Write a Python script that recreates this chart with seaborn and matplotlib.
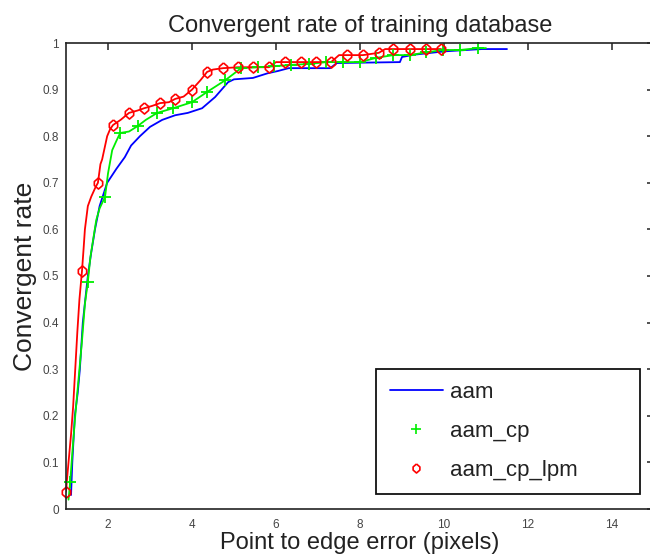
import matplotlib
matplotlib.use("Agg")
import matplotlib.pyplot as plt
from matplotlib.lines import Line2D
import seaborn as sns

# ---- data ----
aam_x = [1.12, 1.15, 1.21, 1.28, 1.33, 1.40, 1.46, 1.52, 1.60, 1.69, 1.80, 1.98, 2.20, 2.40,
         2.55, 2.76, 3.00, 3.29, 3.60, 3.90, 4.24, 4.55, 4.86, 5.00, 5.45, 5.80, 6.05, 6.30,
         6.64, 7.29, 7.45, 8.95, 9.00, 9.30, 9.60, 10.00, 10.90, 11.50]
aam_y = [0.03, 0.10, 0.20, 0.25, 0.30, 0.40, 0.45, 0.50, 0.55, 0.60, 0.65, 0.70, 0.73, 0.755,
         0.78, 0.80, 0.82, 0.835, 0.845, 0.85, 0.86, 0.884, 0.916, 0.922, 0.925, 0.935, 0.94, 0.946,
         0.946, 0.946, 0.957, 0.959, 0.97, 0.975, 0.978, 0.982, 0.987, 0.987]

cp_x = [1.06, 1.10, 1.15, 1.22, 1.30, 1.38, 1.45, 1.52, 1.58, 1.65, 1.72, 1.80, 1.93, 2.00,
        2.10, 2.20, 2.29, 2.50, 2.71, 2.90, 3.17, 3.55, 4.00, 4.36, 4.79, 5.17, 5.57, 5.95,
        6.35, 6.78, 7.20, 7.60, 8.00, 8.38, 8.79, 9.19, 9.58, 9.98, 10.38, 10.80, 11.00]
cp_y = [0.02, 0.058, 0.12, 0.20, 0.28, 0.36, 0.44, 0.487, 0.54, 0.58, 0.62, 0.645, 0.67, 0.72,
        0.77, 0.79, 0.807, 0.81, 0.822, 0.835, 0.85, 0.86, 0.873, 0.895, 0.92, 0.946, 0.948, 0.95,
        0.953, 0.955, 0.959, 0.959, 0.959, 0.968, 0.974, 0.974, 0.98, 0.985, 0.985, 0.989, 0.989]
cp_mx = [1.10, 1.52, 1.93, 2.29, 2.71, 3.17, 3.55, 4.00, 4.36, 4.79, 5.17, 5.57, 5.95,
         6.35, 6.78, 7.20, 7.60, 8.00, 8.38, 8.79, 9.19, 9.58, 9.98, 10.38, 10.80]
cp_my = [0.058, 0.487, 0.67, 0.807, 0.822, 0.85, 0.86, 0.873, 0.895, 0.92, 0.946, 0.948, 0.95,
         0.953, 0.955, 0.959, 0.959, 0.959, 0.968, 0.974, 0.974, 0.98, 0.985, 0.985, 0.989]

lpm_x = [1.00, 1.03, 1.07, 1.12, 1.17, 1.22, 1.27, 1.32, 1.38, 1.42, 1.45, 1.52, 1.60, 1.70,
         1.76, 1.82, 1.86, 1.98, 2.05, 2.12, 2.30, 2.50, 2.70, 2.86, 3.05, 3.24, 3.45, 3.60,
         3.80, 4.00, 4.20, 4.36, 4.50, 4.74, 5.10, 5.45, 5.83, 6.00, 6.21, 6.60, 6.95, 7.31,
         7.50, 7.69, 8.07, 8.45, 8.60, 8.79, 9.19, 9.57, 9.93]
lpm_y = [0.037, 0.07, 0.11, 0.16, 0.22, 0.30, 0.38, 0.45, 0.51, 0.56, 0.60, 0.65, 0.67, 0.69,
         0.70, 0.74, 0.75, 0.80, 0.815, 0.824, 0.835, 0.85, 0.855, 0.86, 0.865, 0.871, 0.873, 0.88,
         0.885, 0.90, 0.92, 0.938, 0.943, 0.946, 0.948, 0.948, 0.948, 0.959, 0.959, 0.959, 0.959, 0.959,
         0.974, 0.974, 0.974, 0.979, 0.987, 0.987, 0.987, 0.987, 0.987]
lpm_mx = [1.00, 1.38, 1.76, 2.12, 2.50, 2.86, 3.24, 3.60, 4.00, 4.36, 4.74, 5.10, 5.45,
          5.83, 6.21, 6.60, 6.95, 7.31, 7.69, 8.07, 8.45, 8.79, 9.19, 9.57, 9.93]
lpm_my = [0.037, 0.51, 0.70, 0.824, 0.85, 0.86, 0.871, 0.88, 0.90, 0.938, 0.946, 0.948, 0.948,
          0.948, 0.959, 0.959, 0.959, 0.959, 0.974, 0.974, 0.979, 0.987, 0.987, 0.987, 0.987]

series_labels = ["aam", "aam_cp", "aam_cp_lpm"]
xticks = [2, 4, 6, 8, 10, 12, 14]
yticks = [0, 0.1, 0.2, 0.3, 0.4, 0.5, 0.6, 0.7, 0.8, 0.9, 1]
ytick_labels = ["0", "0.1", "0.2", "0.3", "0.4", "0.5", "0.6", "0.7", "0.8", "0.9", "1"]

BLUE, GREEN, RED = "#0000FF", "#00EE00", "#FF0000"
# rounded diamond marker, like the reference
DIAM = [(0, 1), (0.75, 0.35), (0.75, -0.35), (0, -1), (-0.75, -0.35), (-0.75, 0.35), (0, 1)]

sns.set_style("white")
plt.rcParams["font.family"] = ["Liberation Sans", "DejaVu Sans"]

fig = plt.figure(figsize=(6.5, 5.56), dpi=100)
ax = fig.add_axes([66 / 650, 47 / 556, 588 / 650, 466 / 556])

# lines
sns.lineplot(x=aam_x, y=aam_y, ax=ax, color=BLUE, lw=1.3, estimator=None, sort=False, legend=False)
sns.lineplot(x=cp_x, y=cp_y, ax=ax, color=GREEN, lw=1.3, estimator=None, sort=False, legend=False)
sns.lineplot(x=lpm_x, y=lpm_y, ax=ax, color=RED, lw=1.3, estimator=None, sort=False, legend=False)
# markers
sns.lineplot(x=cp_mx, y=cp_my, ax=ax, color=GREEN, linestyle="none", marker="+", ms=8,
             markeredgewidth=1.3, markeredgecolor=GREEN, estimator=None, sort=False,
             legend=False, clip_on=False)
sns.lineplot(x=lpm_mx, y=lpm_my, ax=ax, color=RED, linestyle="none", marker=DIAM, ms=8,
             markerfacecolor="none", markeredgewidth=1.2, markeredgecolor=RED, estimator=None,
             sort=False, legend=False, clip_on=False)

ax.set_xlim(1, 15)
ax.set_ylim(0, 1)
ax.set_xticks(xticks)
ax.set_xticklabels([str(t) for t in xticks])
ax.set_yticks(yticks)
ax.set_yticklabels(ytick_labels)
ax.tick_params(direction="in", top=True, right=True, length=5, width=1.1,
               labelsize=8.5, labelcolor="#444444", color="#222222", pad=5)
ax.tick_params(axis="x", pad=7)
for s in ax.spines.values():
    s.set_color("#222222")
    s.set_linewidth(1.2)

ax.set_title("Convergent rate of training database", fontsize=17, color="#222222", pad=8)
ax.set_xlabel("Point to edge error (pixels)", fontsize=17, color="#222222", labelpad=1)
ax.set_ylabel("Convergent rate", fontsize=19, color="#222222", labelpad=4)

handles = [
    Line2D([], [], color=BLUE, lw=1.3),
    Line2D([], [], color=GREEN, linestyle="none", marker="+", ms=7, mew=1.2),
    Line2D([], [], color=RED, linestyle="none", marker=DIAM, ms=6.5, mfc="none", mew=1.2),
]
leg = ax.legend(handles, series_labels, loc="lower left",
                bbox_to_anchor=(0.528, 0.032, 0.449, 0.28), mode="expand",
                borderaxespad=0, fontsize=16, handlelength=2.4, handletextpad=0.3,
                labelspacing=0.8, borderpad=0.6, fancybox=False, framealpha=1)
leg.get_frame().set_edgecolor("#111111")
leg.get_frame().set_linewidth(1.3)
for t in leg.get_texts():
    t.set_color("#222222")

fig.savefig("out.png", dpi=100)
